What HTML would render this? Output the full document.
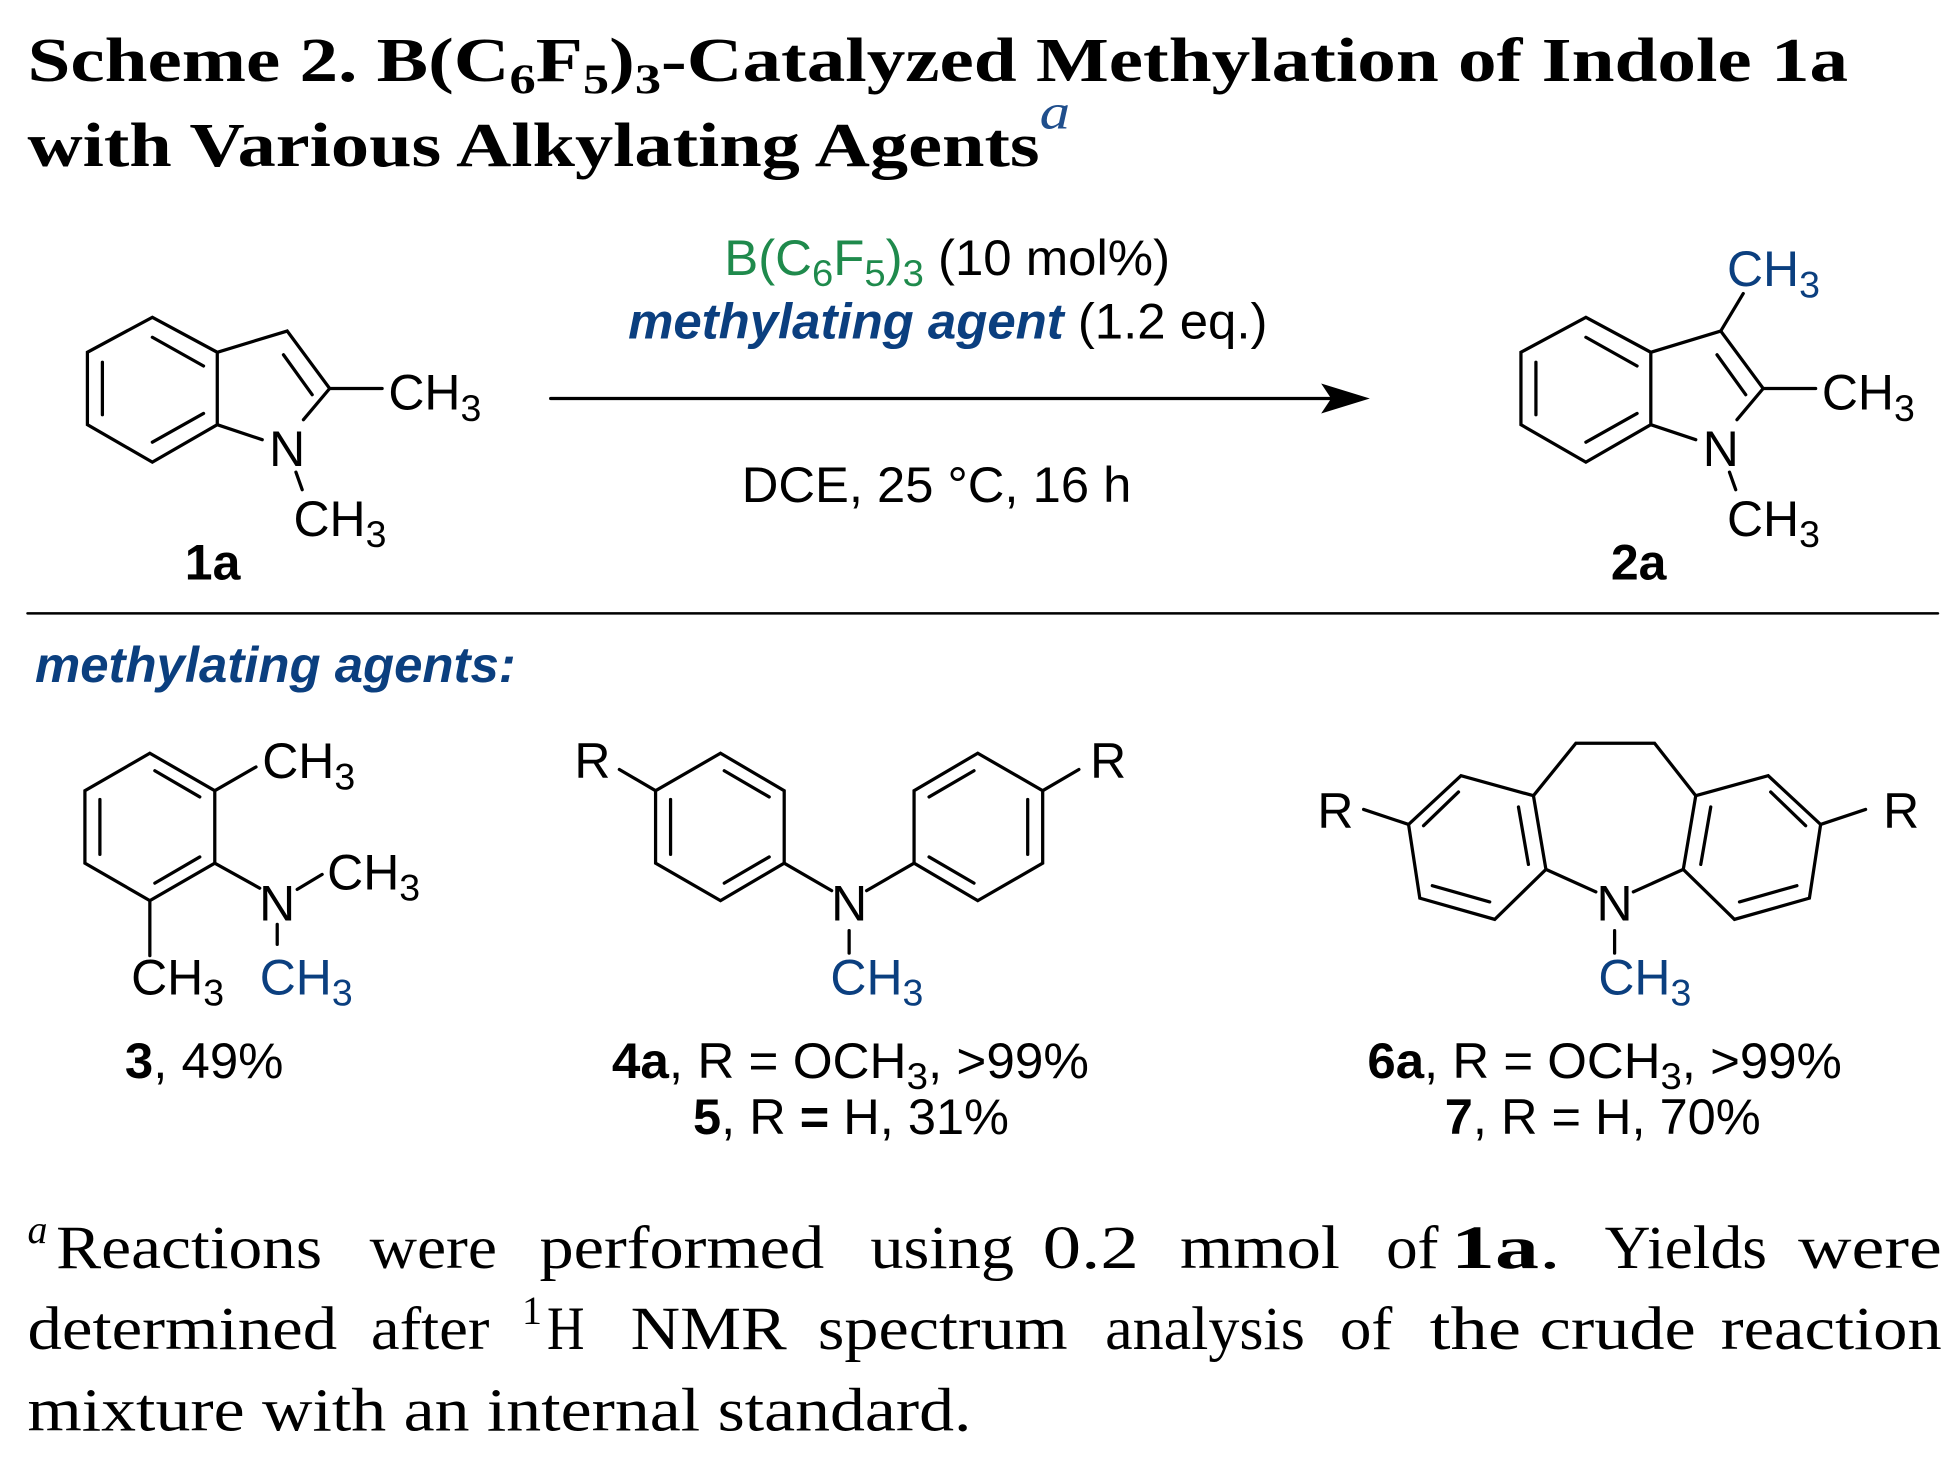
<!DOCTYPE html>
<html><head><meta charset="utf-8"><style>
html,body{margin:0;padding:0;background:#fff;}
svg{display:block;}
.s{font-family:"Liberation Sans",sans-serif;font-size:40px;fill:#000;}
.b{font-weight:bold;}
.bl{fill:#0b3f7f;}
.g{fill:#1f8a4c;}
.sr{font-family:"Liberation Serif",serif;}
.m{text-anchor:middle;}
</style></head><body>
<svg width="1958" height="1469" viewBox="0 0 1568 1176" preserveAspectRatio="none" xmlns="http://www.w3.org/2000/svg">
<g class="sr" font-weight="bold" font-size="50">
<text x="22" y="65" textLength="1458" lengthAdjust="spacingAndGlyphs">Scheme 2. B(C<tspan font-size="34" dy="10">6</tspan><tspan dy="-10">F</tspan><tspan font-size="34" dy="10">5</tspan><tspan dy="-10">)</tspan><tspan font-size="34" dy="10">3</tspan><tspan dy="-10">-Catalyzed Methylation of Indole 1a</tspan></text>
<text x="22" y="133" textLength="835" lengthAdjust="spacingAndGlyphs">with Various Alkylating Agents<tspan font-style="italic" font-weight="normal" font-size="40" dy="-30" fill="#1f4e8c">a</tspan></text>
</g>
<g fill="none" stroke="#000" stroke-width="2.6" stroke-linecap="round">
<g id="ind">
<polygon points="122,254 174,282 174,340 122,370 70,340 70,282"/>
<line x1="122" y1="270" x2="163" y2="293"/><line x1="82" y1="290" x2="82" y2="332"/><line x1="122" y1="354" x2="163" y2="331"/>
<polyline points="174,282 230,265 264,311 306,311"/>
<line x1="227" y1="284" x2="250" y2="316"/>
<line x1="174" y1="340" x2="210" y2="352"/>
<line x1="264" y1="311" x2="243" y2="336"/>
<line x1="237" y1="378" x2="242" y2="392"/>
</g>
<use href="#ind" transform="translate(1148,0)"/>
<line x1="1378" y1="265" x2="1396" y2="235"/>
<line x1="441" y1="319" x2="1070" y2="319"/>
<line x1="22" y1="491" x2="1552" y2="491" stroke-width="2"/>
<polygon points="120,603 172,633 172,691 120,721 68,691 68,633"/>
<line x1="124" y1="617" x2="160" y2="638"/><line x1="80" y1="640" x2="80" y2="684"/><line x1="160" y1="686" x2="124" y2="707"/>
<line x1="172" y1="633" x2="205" y2="614"/>
<line x1="172" y1="691" x2="208" y2="711"/>
<line x1="238" y1="712" x2="258" y2="700"/>
<line x1="222" y1="740" x2="222" y2="756"/>
<line x1="120" y1="721" x2="120" y2="765"/>
<polygon points="577,603 628,633 628,691 577,721 525,691 525,633"/>
<line x1="580" y1="617" x2="616" y2="638"/><line x1="537" y1="640" x2="537" y2="684"/><line x1="616" y1="686" x2="580" y2="707"/>
<line x1="525" y1="633" x2="496" y2="616"/>
<line x1="628" y1="691" x2="666" y2="713"/>
<polygon points="783,603 732,633 732,691 783,721 835,691 835,633"/>
<line x1="780" y1="617" x2="744" y2="638"/><line x1="823" y1="640" x2="823" y2="684"/><line x1="744" y1="686" x2="780" y2="707"/>
<line x1="835" y1="633" x2="864" y2="616"/>
<line x1="732" y1="691" x2="694" y2="713"/>
<line x1="680" y1="745" x2="680" y2="763"/>
<polygon points="1170,621 1228,637 1238,696 1197,736 1137,719 1128,660"/>
<line x1="1168" y1="634" x2="1140" y2="661"/><line x1="1216" y1="646" x2="1224" y2="692"/><line x1="1193" y1="722" x2="1147" y2="709"/>
<polyline points="1228,637 1262,595 1325,595 1358,637"/>
<polygon points="1416,621 1358,637 1348,696 1389,736 1449,719 1458,660"/>
<line x1="1418" y1="634" x2="1446" y2="661"/><line x1="1370" y1="646" x2="1362" y2="692"/><line x1="1393" y1="722" x2="1439" y2="709"/>
<line x1="1128" y1="660" x2="1092" y2="648"/>
<line x1="1458" y1="660" x2="1494" y2="648"/>
<line x1="1238" y1="696" x2="1278" y2="714"/>
<line x1="1348" y1="696" x2="1308" y2="714"/>
<line x1="1293" y1="745" x2="1293" y2="763"/>
</g>
<polygon points="1097,319 1058,307 1066,319 1058,331" fill="#000"/>
<g class="s">
<text x="311" y="328">CH<tspan font-size="30" dy="9">3</tspan></text>
<text x="230" y="373" class="m">N</text>
<text x="235" y="429">CH<tspan font-size="30" dy="9">3</tspan></text>
<text x="148" y="464" class="b">1a</text>
<text x="1459" y="328">CH<tspan font-size="30" dy="9">3</tspan></text>
<text x="1378" y="373" class="m">N</text>
<text x="1383" y="429">CH<tspan font-size="30" dy="9">3</tspan></text>
<text x="1383" y="229" class="bl">CH<tspan font-size="30" dy="9">3</tspan></text>
<text x="1290" y="464" class="b">2a</text>
<text x="580" y="220" textLength="357" lengthAdjust="spacingAndGlyphs"><tspan class="g">B(C<tspan font-size="30" dy="9">6</tspan><tspan dy="-9">F</tspan><tspan font-size="30" dy="9">5</tspan><tspan dy="-9">)</tspan><tspan font-size="30" dy="9">3</tspan></tspan><tspan dy="-9"> (10 mol%)</tspan></text>
<text x="503" y="271" textLength="512" lengthAdjust="spacingAndGlyphs"><tspan class="bl b" font-style="italic">methylating agent</tspan> (1.2 eq.)</text>
<text x="594" y="402" textLength="312" lengthAdjust="spacingAndGlyphs">DCE, 25 °C, 16 h</text>
<text x="28" y="546" class="bl b" font-style="italic" textLength="385" lengthAdjust="spacingAndGlyphs">methylating agents:</text>
<text x="210" y="623">CH<tspan font-size="30" dy="9">3</tspan></text>
<text x="222" y="737" class="m">N</text>
<text x="262" y="712">CH<tspan font-size="30" dy="9">3</tspan></text>
<text x="105" y="796">CH<tspan font-size="30" dy="9">3</tspan></text>
<text x="208" y="796" class="bl">CH<tspan font-size="30" dy="9">3</tspan></text>
<text x="100" y="863" textLength="127" lengthAdjust="spacingAndGlyphs"><tspan class="b">3</tspan>, 49%</text>
<text x="460" y="623">R</text>
<text x="873" y="623">R</text>
<text x="680" y="737" class="m">N</text>
<text x="665" y="796" class="bl">CH<tspan font-size="30" dy="9">3</tspan></text>
<text x="490" y="863" textLength="382" lengthAdjust="spacingAndGlyphs"><tspan class="b">4a</tspan>, R = OCH<tspan font-size="30" dy="9">3</tspan><tspan dy="-9">, &gt;99%</tspan></text>
<text x="555" y="908" textLength="253" lengthAdjust="spacingAndGlyphs"><tspan class="b">5</tspan>, R <tspan class="b">=</tspan> H, 31%</text>
<text x="1055" y="663">R</text>
<text x="1508" y="663">R</text>
<text x="1293" y="737" class="m">N</text>
<text x="1280" y="796" class="bl">CH<tspan font-size="30" dy="9">3</tspan></text>
<text x="1095" y="863" textLength="380" lengthAdjust="spacingAndGlyphs"><tspan class="b">6a</tspan>, R = OCH<tspan font-size="30" dy="9">3</tspan><tspan dy="-9">, &gt;99%</tspan></text>
<text x="1157" y="908" textLength="253" lengthAdjust="spacingAndGlyphs"><tspan class="b">7</tspan>, R = H, 70%</text>
</g>
<g class="sr" font-size="49">
<text x="22" y="995" font-style="italic" font-size="32">a</text>
<text x="45" y="1015" textLength="213" lengthAdjust="spacingAndGlyphs">Reactions</text>
<text x="296" y="1015" textLength="102" lengthAdjust="spacingAndGlyphs">were</text>
<text x="432" y="1015" textLength="228" lengthAdjust="spacingAndGlyphs">performed</text>
<text x="697" y="1015" textLength="115" lengthAdjust="spacingAndGlyphs">using</text>
<text x="835" y="1015" textLength="77" lengthAdjust="spacingAndGlyphs">0.2</text>
<text x="945" y="1015" textLength="128" lengthAdjust="spacingAndGlyphs">mmol</text>
<text x="1110" y="1015" textLength="42" lengthAdjust="spacingAndGlyphs">of</text>
<text x="1162" y="1015" textLength="88" lengthAdjust="spacingAndGlyphs"><tspan font-weight="bold">1a</tspan>.</text>
<text x="1285" y="1015" textLength="130" lengthAdjust="spacingAndGlyphs">Yields</text>
<text x="1440" y="1015" textLength="115" lengthAdjust="spacingAndGlyphs">were</text>
<text x="22" y="1080" textLength="248" lengthAdjust="spacingAndGlyphs">determined</text>
<text x="297" y="1080" textLength="95" lengthAdjust="spacingAndGlyphs">after</text>
<text x="418" y="1060" font-size="32">1</text>
<text x="438" y="1080" textLength="30" lengthAdjust="spacingAndGlyphs">H</text>
<text x="505" y="1080" textLength="125" lengthAdjust="spacingAndGlyphs">NMR</text>
<text x="655" y="1080" textLength="200" lengthAdjust="spacingAndGlyphs">spectrum</text>
<text x="885" y="1080" textLength="160" lengthAdjust="spacingAndGlyphs">analysis</text>
<text x="1073" y="1080" textLength="42" lengthAdjust="spacingAndGlyphs">of</text>
<text x="1145" y="1080" textLength="73" lengthAdjust="spacingAndGlyphs">the</text>
<text x="1233" y="1080" textLength="125" lengthAdjust="spacingAndGlyphs">crude</text>
<text x="1378" y="1080" textLength="177" lengthAdjust="spacingAndGlyphs">reaction</text>
<text x="22" y="1145" textLength="756" lengthAdjust="spacingAndGlyphs">mixture with an internal standard.</text>
</g>
</svg>
</body></html>
